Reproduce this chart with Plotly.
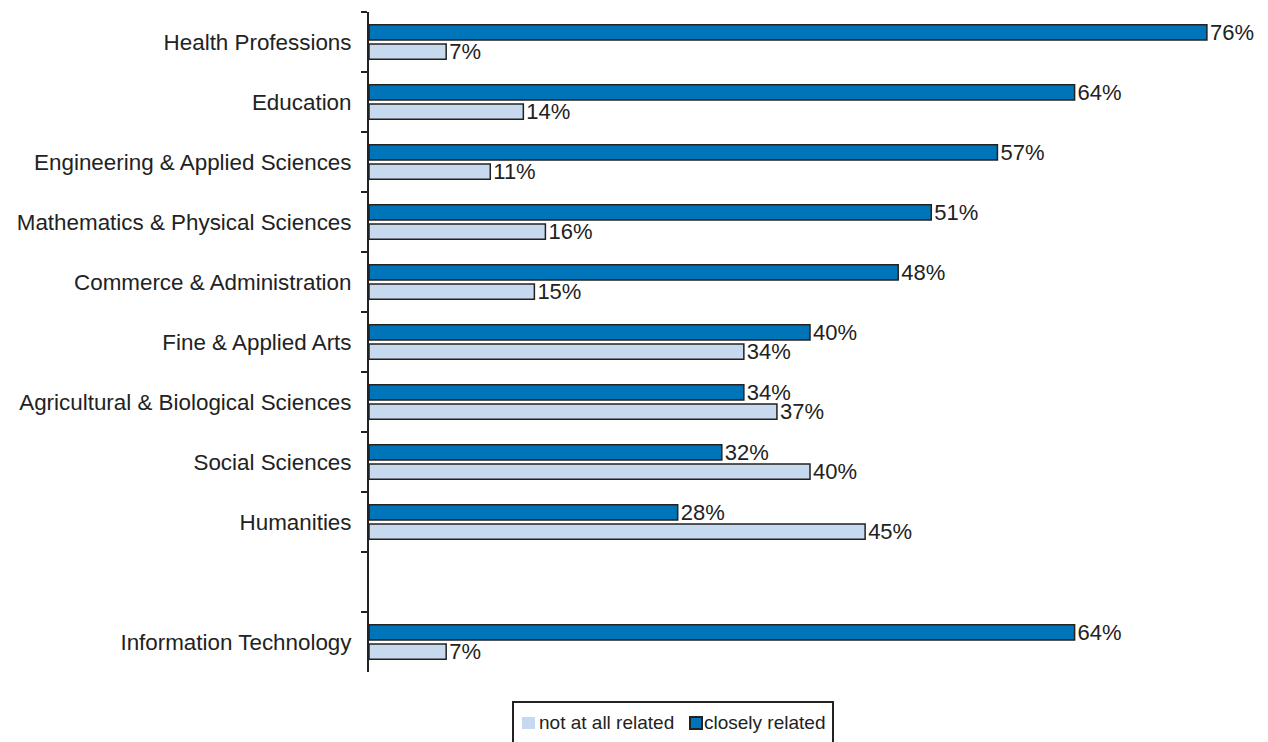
import plotly.graph_objects as go

# Field of study, top to bottom (" " is the spacer row before IT)
fields = [
    "Health Professions",
    "Education",
    "Engineering & Applied Sciences",
    "Mathematics & Physical Sciences",
    "Commerce & Administration",
    "Fine & Applied Arts",
    "Agricultural & Biological Sciences",
    "Social Sciences",
    "Humanities",
    " ",
    "Information Technology",
]

# Share of graduates whose job is closely related / not at all related (%)
closely_related = [76, 64, 57, 51, 48, 40, 34, 32, 28, None, 64]
not_related = [7, 14, 11, 16, 15, 34, 37, 40, 45, None, 7]

# Legend entries, in reading order
legend_names = ["not at all related", "closely related"]

DARK_BLUE = "#0074b8"
LIGHT_BLUE = "#c7d9ee"
OUTLINE = "#222222"
TEXT = "#222222"

# Plot box in pixels (used to place the legend and its frame)
PLOT_LEFT, PLOT_W, PLOT_BOTTOM, PLOT_H = 369, 882, 672, 660


def px_x(px):
    return (px - PLOT_LEFT) / PLOT_W


def px_y(py):
    return (PLOT_BOTTOM - py) / PLOT_H


def pct_labels(values):
    return ["" if v is None else f"{v}%" for v in values]


fig = go.Figure()

for name, values, color in [
    ("closely related", closely_related, DARK_BLUE),
    ("not at all related", not_related, LIGHT_BLUE),
]:
    fig.add_trace(go.Bar(
        name=name,
        y=fields,
        x=values,
        orientation="h",
        marker=dict(color=color, line=dict(color=OUTLINE, width=1.5)),
        text=pct_labels(values),
        textposition="outside",
        constraintext="none",
        textfont=dict(size=22, color=TEXT),
        cliponaxis=False,
        showlegend=False,
    ))

# Legend box below the plot, running off the bottom edge
fig.add_shape(
    type="rect", xref="paper", yref="paper",
    x0=px_x(513), x1=px_x(833), y0=px_y(790), y1=px_y(702),
    line=dict(color=OUTLINE, width=2), fillcolor="rgba(0,0,0,0)",
)
# key: plain light square
fig.add_shape(
    type="rect", xref="paper", yref="paper",
    x0=px_x(522), x1=px_x(535), y0=px_y(729), y1=px_y(717),
    line=dict(width=0), fillcolor=LIGHT_BLUE,
)
# key: outlined dark square
fig.add_shape(
    type="rect", xref="paper", yref="paper",
    x0=px_x(690), x1=px_x(702), y0=px_y(729), y1=px_y(717),
    line=dict(color=OUTLINE, width=2), fillcolor=DARK_BLUE,
)
for name, left in zip(legend_names, [537, 702]):
    fig.add_annotation(
        text=name, xref="paper", yref="paper",
        x=px_x(left), y=px_y(723), xanchor="left", yanchor="middle",
        showarrow=False, font=dict(size=19, color=TEXT),
    )

fig.update_layout(
    width=1268,
    height=742,
    margin=dict(l=369, r=17, t=12, b=70, autoexpand=False),
    paper_bgcolor="white",
    plot_bgcolor="white",
    font=dict(family="Liberation Sans, Arial, sans-serif", color=TEXT),
    barmode="group",
    bargap=0.36,
    bargroupgap=0.2,
    showlegend=False,
    xaxis=dict(
        range=[0, 80],
        visible=False,
        showgrid=False,
        zeroline=False,
    ),
    yaxis=dict(
        type="category",
        categoryorder="array",
        categoryarray=fields,
        autorange="reversed",
        showline=True,
        linecolor=OUTLINE,
        linewidth=2,
        ticks="outside",
        ticklen=6,
        tickwidth=2,
        tickcolor=OUTLINE,
        tickson="boundaries",
        ticklabelstandoff=11,
        showgrid=False,
        tickfont=dict(size=22.4, color=TEXT),
    ),
)

fig.write_html("out.html")
